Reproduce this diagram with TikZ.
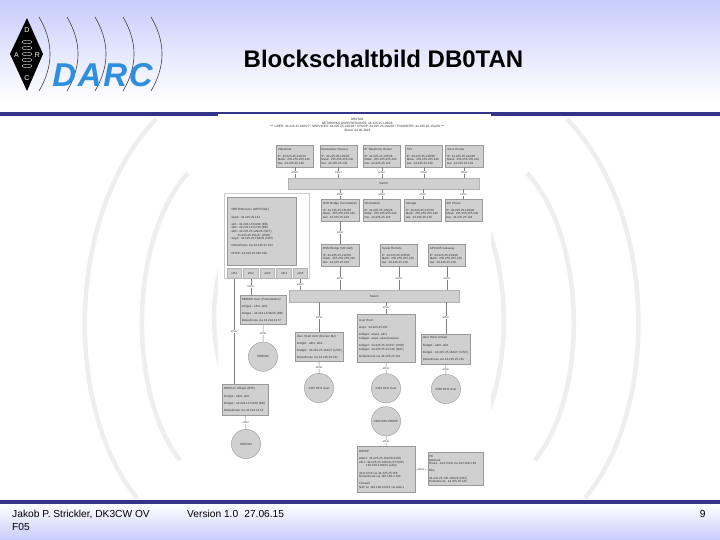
\documentclass[tikz,border=0pt]{standalone}
\usepackage{fontspec}
\setmainfont{Liberation Sans}
\usepackage{tikz}
\definecolor{slidesky}{HTML}{C8CCFC}
\definecolor{slidebar}{HTML}{333388}
\definecolor{darcblue}{HTML}{2F8FDD}
\definecolor{boxgray}{HTML}{D0D0D0}
\definecolor{arcgray}{HTML}{EEEEEE}

\begin{document}
\begin{tikzpicture}[x=1pt,y=-1pt]
	\tikzset{devbox/.style 2 args={rectangle, draw=black!40, fill=boxgray, line width=.4pt, inner xsep=1.5pt, inner ysep=0pt, text width=#1pt, minimum height=#2pt, align=left, text=black!80, font=\fontsize{3}{3.6}\selectfont}}
	\tikzset{hostbox/.style={devbox={34.3}{22}}}
	\tikzset{switchbox/.style={rectangle, draw=black!30, fill=boxgray, line width=.4pt, inner sep=0pt, minimum height=11pt, text=black!80, font=\fontsize{3}{3.6}\selectfont}}
	\tikzset{radiocircle/.style={circle, draw=black!40, fill=boxgray, line width=.4pt, inner sep=0pt, minimum width=29.3pt, align=center, text=black!80, font=\fontsize{3}{3.6}\selectfont}}
	\tikzset{link/.style={draw=black!50, line width=.4pt}}
	\tikzset{etherlabel/.style={fill=white, inner sep=.4pt, text=black!70, font=\fontsize{2.9}{3}\selectfont}}
	\tikzset{logoarc/.style={draw=black!75, line width=.6pt}}
	\tikzset{bgarc/.style={draw=arcgray, line width=4.5pt}}

	%---SLIDE---
	\fill[white] (0,0) rectangle (720,540);
	\useasboundingbox (0,0) rectangle (720,540);
	\shade[top color=slidesky, bottom color=white] (0,0) rectangle (720,100);
	\shade[top color=white, bottom color=slidesky] (0,504) rectangle (720,540);
	\draw[bgarc] (156,119) .. controls (64.5,215) and (64.5,410) .. (137,498);
	\draw[bgarc] (188,173) .. controls (128,240) and (128,395) .. (180,460);
	\draw[bgarc] (231,237) .. controls (208.3,290) and (208.3,344) .. (231,397);
	\draw[bgarc] (567,119) .. controls (659,215) and (659,410) .. (585,498);
	\draw[bgarc] (527,173) .. controls (588,240) and (588,395) .. (535,460);
	\draw[bgarc] (470,193) .. controls (515,260) and (515,381) .. (470,448);
	\fill[slidebar] (0,112) rectangle (720,116);
	\fill[slidebar] (0,500) rectangle (720,504);
	\fill[white] (218,114) rectangle (491,499.5);

	%---LOGO---
	\foreach \x in {39,67,95,123,151} {
		\draw[logoarc] (\x,17) .. controls (\x+14.7,42) and (\x+14.7,66) .. (\x,91);
	}
	\fill[black] (27,18) -- (43,54) -- (27,91) -- (10,54) -- cycle;
	\foreach \y in {42,48,54,60,66} {
		\draw[white, line width=.35pt] (27,\y) ellipse (5 and 1.8);
	}
	\node[text=white, font=\fontsize{7}{8}\selectfont] (logod) at (27,30) {D};
	\node[text=white, font=\fontsize{7}{8}\selectfont] (logoa) at (16.5,55) {A};
	\node[text=white, font=\fontsize{7}{8}\selectfont] (logor) at (37.5,55) {R};
	\node[text=white, font=\fontsize{7}{8}\selectfont] (logoc) at (27,78) {C};
	\node[text=darcblue, font=\fontsize{33}{33}\selectfont\bfseries\itshape\addfontfeatures{LetterSpace=5}] (darc) at (102.5,75) {DARC};

	%---TEXTS---
	\node[font=\fontsize{24}{28}\selectfont\bfseries] (title) at (383.5,59) {Blockschaltbild DB0TAN};
	\node[anchor=north west, align=left, font=\fontsize{10.2}{13}\selectfont] (footauthor) at (8.7,506.5) {Jakob P. Strickler, DK3CW OV\\F05};
	\node[anchor=north west, font=\fontsize{10.2}{13}\selectfont] (footversion) at (183.7,506.5) {Version 1.0\hspace{.6em}27.06.15};
	\node[anchor=north east, font=\fontsize{10.2}{13}\selectfont] (footpage) at (709,506.5) {9};
	\node[align=center, text=black!80, font=\fontsize{3.15}{3.65}\selectfont] (header) at (357.3,124.8) {DB0TAN\\NETWORKS USER/SERVICES: 44.225.25.128/26\\*** USER: 44.225.25.160/27 / SERVICES: 44.225.25.128/28 / SYSOP: 44.225.25.144/29 / TRANSFER: 44.225.25.152/29 ***\\Stand: 04.05.2014};

	%---NODES---
	\node[hostbox] (videohost) at (295,156.3) {Videohost\\[3.6pt]IP: 44.225.25.141/28\\Mask: 255.255.255.240\\Gw: 44.225.25.129};
	\node[hostbox] (remotebox) at (338.5,156.3) {Remotebox (Sysex)\\[3.6pt]IP: 44.225.25.139/28\\Mask: 255.255.255.240\\Gw: 44.225.25.129};
	\node[hostbox] (iprouter) at (381.7,156.3) {IP Telephony Router\\[3.6pt]IP: 44.225.25.136/28\\Mask: 255.255.255.240\\Gw: 44.225.25.129};
	\node[hostbox] (atv) at (424,156.3) {ATV\\[3.6pt]IP: 44.225.25.138/28\\Mask: 255.255.255.240\\Gw: 44.225.25.129};
	\node[hostbox] (voicerouter) at (464.3,156.3) {Voice Router\\[3.6pt]IP: 44.225.25.134/28\\Mask: 255.255.255.240\\Gw: 44.225.25.129};

	\node[switchbox, minimum width=190.3pt] (switchtop) at (383.8,183.8) {Switch};

	\node[hostbox] (dxrbridge) at (340.2,210.3) {\mbox{DXR Bridge (Locostation)}\\[3.6pt]IP: 44.225.25.131/28\\Mask: 255.255.255.240\\Gw: 44.225.25.129};
	\node[hostbox] (workstation) at (381.7,210.3) {Workstation\\[3.6pt]IP: 44.225.25.135/28\\Mask: 255.255.255.240\\Gw: 44.225.25.129};
	\node[hostbox] (storage) at (423,210.3) {Storage\\[3.6pt]IP: 44.225.25.137/28\\Mask: 255.255.255.240\\Gw: 44.225.25.129};
	\node[hostbox] (sipphone) at (463.5,210.3) {SIP Phone\\[3.6pt]IP: 44.225.25.140/28\\Mask: 255.255.255.240\\Gw: 44.225.25.129};

	\node[rectangle, draw=black!20, fill=white, line width=.7pt, minimum width=85pt, minimum height=85pt] (routerframe) at (267.2,236.2) {};
	\node[devbox={60}{68.3}, inner xsep=4.2pt] (router) at (261.5,231.5) {DB0TAN/router (WRT54GF)\\[3.6pt]wop1: 44.225.25.161\\[3.6pt]wlt1: 44.224.13.64/29 (BB)\\wlt2: 44.224.13.67/29 (BB)\\wlt3: 44.225.25.129/26 (NET)\\\hspace{6pt}44.225.25.161/27 (USR)\\wop1: 44.225.25.158/29 (NAT)\\[3.6pt]Defaultroute via 44.225.25.154\\[3.6pt]DHCP: 44.225.25.190-190};
	\node[switchbox, minimum width=14pt, minimum height=10pt] (etha) at (234.3,273.3) {eth1};
	\node[switchbox, minimum width=15.7pt, minimum height=10pt] (ethb) at (250.8,273.3) {eth2};
	\node[switchbox, minimum width=14.3pt, minimum height=10pt] (ethc) at (267.5,273.3) {eth3};
	\node[switchbox, minimum width=14.7pt, minimum height=10pt] (ethd) at (284,273.3) {eth4};
	\node[switchbox, minimum width=14.3pt, minimum height=10pt] (ethe) at (300.5,273.3) {eth5};

	\node[hostbox] (dsmbridge) at (340.2,255.2) {DSM Bridge (M3 GW)\\[3.6pt]IP: 44.225.25.132/28\\Mask: 255.255.255.240\\Gw: 44.225.25.129};
	\node[hostbox] (sysopremote) at (399,255.2) {Sysop Remote\\[3.6pt]IP: 44.225.25.108/28\\Mask: 255.255.255.240\\Gw: 44.225.25.129};
	\node[hostbox] (apcogateway) at (447,255.2) {APCO25 Gateway\\[3.6pt]IP: 44.225.25.133/28\\Mask: 255.255.255.240\\Gw: 44.225.25.129};

	\node[switchbox, minimum width=169.7pt, minimum height=11.3pt] (switchlow) at (374.2,296.3) {Switch};

	\node[devbox={43}{29.3}] (db0mwuser) at (263.3,310) {DB0MW User (Powerstation)\\[3.6pt]bridge1: eth0, ath1\\[3.6pt]\mbox{bridge1: 44.224.13.58/30 (BB)}\\[3.6pt]Defaultroute via 44.224.13.57};
	\node[devbox={45}{29.3}] (usershed) at (319.3,347) {User Shed Ubnt (Rocket M2)\\[3.6pt]bridge1: ath0, ath1\\[3.6pt]\mbox{bridge1: 44.225.25.163/27 (USR)}\\[3.6pt]Defaultroute via 44.225.25.161};
	\node[devbox={54.3}{48.7}] (userroof) at (386.3,338.3) {User Roof\\[3.6pt]wop1: 44.225.25.161\\[3.6pt]bridge1: wlan1, ath1\\bridge2: wop1, wlan1(ateam)\\[3.6pt]bridge1: 44.225.25.163/27 (USR)\\bridge2: 44.225.25.157/29 (NAT)\\[3.6pt]Defaultroute via 44.225.25.161};
	\node[devbox={46}{30}] (userwest) at (445.8,348.7) {User West Uhlspit\\[3.6pt]bridge1: ath0, ath1\\[3.6pt]\mbox{bridge1: 44.225.25.164/27 (USR)}\\[3.6pt]Defaultroute via 44.225.25.161};
	\node[devbox={43.3}{30.7}] (uhlspit) at (245.5,399.7) {DB0VUV Uhlspit (6/55)\\[3.6pt]bridge1: eth0, ath1\\[3.6pt]\mbox{bridge1: 44.224.13.53/29 (BB)}\\[3.6pt]Defaultroute via 44.224.13.54};

	\node[radiocircle] (db0mw) at (263,356.7) {DB0MW};
	\node[radiocircle] (shedradio) at (319,388) {2307 MHz User};
	\node[radiocircle] (roofradio) at (386,388.3) {2342 MHz User};
	\node[radiocircle] (westradio) at (446,389) {5585 MHz User};
	\node[radiocircle] (db0tan) at (246,444) {DB0TAN};
	\node[radiocircle] (spradio) at (386,421.3) {2320 MHz DB0SP};

	\node[devbox={54.3}{46.3}] (db0sp) at (386.3,469.5) {DB0SP\\[3.6pt]wlan1: 44.225.25.150/28 (NAT)\\eth1: 44.225.25.145/29 (SYSOP)\\\hspace{7pt}192.168.2.88/23 (LAN)\\[3.6pt]44.0.0.0/8 via 44.225.25.158\\Defaultroute via 192.168.2.103\\[3.6pt]Firewall:\\NAT on 192.168.0.0/23 via wlan1};
	\node[devbox={52}{33.3}] (pc) at (455.2,469) {PC\\Optional:\\Route: 44.0.0.0/8 via 192.168.2.88\\[3.6pt]bzw.\\[3.6pt]44.225.25.145-150/29 (NAT)\\Defaultroute: 44.225.25.145};

	%---EDGES---
	\foreach \host in {videohost,remotebox,iprouter,atv,voicerouter} {
		\draw[link] (\host.south) -- node[etherlabel] {ether} (\host.south |- switchtop.north);
	}
	\foreach \host in {dxrbridge,workstation,storage,sipphone} {
		\draw[link] (\host.north |- switchtop.south) -- node[etherlabel] {ether} (\host.north);
	}
	\draw[link] (dxrbridge) -- node[etherlabel] {ether} (dsmbridge);
	\foreach \host in {dsmbridge,sysopremote,apcogateway} {
		\draw[link] (\host.south) -- node[etherlabel] {ether} (\host.south |- switchlow.north);
	}
	\draw[link] (etha.south) -- node[etherlabel] {ether} (etha.south |- uhlspit.north);
	\draw[link] (ethb.south) -- node[etherlabel] {ether} (ethb.south |- db0mwuser.north);
	\draw[link] (ethe.south) -- node[etherlabel] {ether} (ethe.south |- switchlow.north);
	\foreach \host in {usershed,userroof,userwest} {
		\draw[link] (\host.north |- switchlow.south) -- node[etherlabel] {ether} (\host.north);
	}
	\draw[link] (db0mwuser) -- node[etherlabel] {ether} (db0mw);
	\draw[link] (usershed) -- node[etherlabel] {ether} (shedradio);
	\draw[link] (userroof) -- node[etherlabel] {ether} (roofradio);
	\draw[link] (userwest) -- node[etherlabel] {ether} (westradio);
	\draw[link] (uhlspit) -- node[etherlabel] {ether} (db0tan);
	\draw[link] (spradio) -- node[etherlabel] {ether} (db0sp);
	\draw[link] (db0sp) -- node[etherlabel] {ether} (pc);
\end{tikzpicture}
\end{document}
